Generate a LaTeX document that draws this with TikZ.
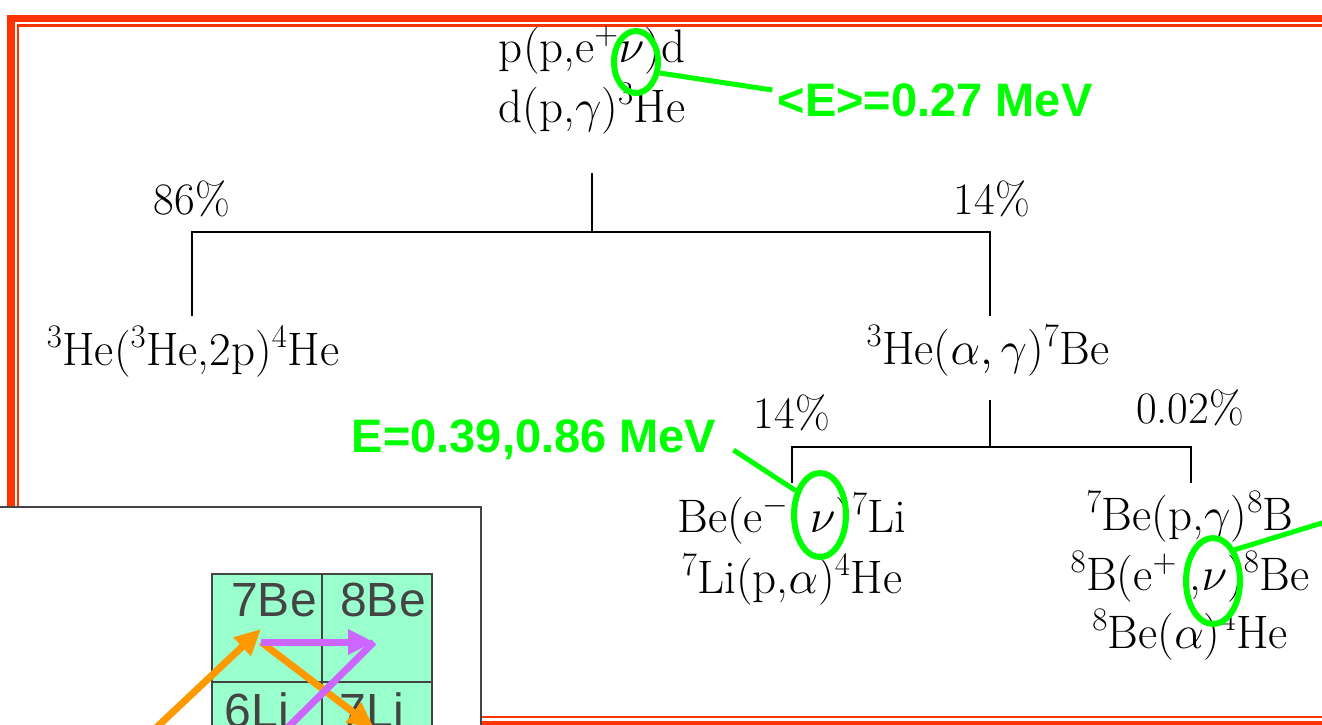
\RequirePackage{fix-cm}
\documentclass[tikz,border=0pt]{standalone}
\usepackage{fontspec}
\newfontfamily\arialfont{Liberation Sans}
\usetikzlibrary{arrows.meta,positioning,calc,shapes.geometric}
\definecolor{framered}{HTML}{FF3300}
\definecolor{nugreen}{HTML}{00FF00}
\definecolor{cellmint}{HTML}{99FFCC}
\definecolor{cellgray}{HTML}{444444}
\definecolor{arrorange}{HTML}{FF9900}
\definecolor{arrpurple}{HTML}{CC66FF}

\begin{document}
\begin{tikzpicture}[
    x=1pt, y=-1pt,
    rx/.style={font=\fontsize{47}{60}\selectfont, inner sep=0pt, anchor=base},
    pct/.style={font=\fontsize{45}{52}\selectfont, inner sep=0pt},
    branch/.style={line width=1.3pt},
    nuring/.style={ellipse, draw=nugreen, line width=6pt, inner sep=0pt},
    nulabel/.style={text=nugreen, font=\arialfont\bfseries\fontsize{47}{56}\selectfont, inner sep=0pt},
    nulink/.style={draw=nugreen, line width=5pt},
    cell/.style={rectangle, draw=cellgray, line width=2pt, fill=cellmint, minimum width=110pt, minimum height=108pt, inner sep=0pt},
    celltxt/.style={text=cellgray, font=\arialfont\fontsize{48}{54}\selectfont, inner sep=0pt, anchor=base},
    flow/.style={line width=7pt, -{Triangle[length=26pt,width=24pt]}}
]
\useasboundingbox (0,0) rectangle (1322,724);
\clip (0,0) rectangle (1322,724);

% slide frame
\draw[framered, line width=7.5pt] (11.2,18.7) rectangle (1345,724.5);
\draw[framered, line width=2.5pt] (18,25.3) rectangle (1340,717);

% pp chain
\node[rx] (pp1) at (592,62) {p(p,e$^+$$\nu$)d};
\node[rx] (pp2) at (592,122) {d(p,$\gamma$)$^3$He};

\coordinate (pp-stem) at (592,173);
\coordinate (j0) at (592,232);
\coordinate (hh-top) at (192,316);
\coordinate (be-top) at (990,316);
\draw[branch] (pp-stem) -- (j0);
\draw[branch] (hh-top) |- (j0) -| (be-top);

\node[pct] (p86) at (192,199) {86\%};
\node[pct] (p14a) at (992,199) {14\%};

\node[rx] (hh) at (193,365) {$^3$He($^3$He,2p)$^4$He};
\node[rx] (be7) at (988,364) {$^3$He($\alpha,\gamma$)$^7$Be};

% 7Be branches
\coordinate (be-stem) at (990,400);
\coordinate (j1) at (990,447);
\coordinate (li-top) at (792,483);
\coordinate (b8-top) at (1191,483);
\draw[branch] (be-stem) -- (j1);
\draw[branch] (li-top) |- (j1) -| (b8-top);

\node[pct] (p14b) at (792,413) {14\%};
\node[pct] (p002) at (1190,408) {0.02\%};

\node[rx] (li1) at (792,532) {Be(e$^-$\hspace{0.445em}$\nu$)$^7$Li};
\node[rx] (li2) at (792,593) {$^7$Li(p,$\alpha$)$^4$He};

\node[rx] (b1) at (1190,530) {$^7$Be(p,$\gamma$)$^8$B};
\node[rx] (b2) at (1190,590) {$^8$B(e$^+$\;,$\nu$)$^8$Be};
\node[rx] (b3) at (1190,648) {$^8$Be($\alpha$)$^4$He};

% neutrino marks
\node[nuring, minimum width=44pt, minimum height=62pt] (nu1) at (636,62) {};
\node[nuring, minimum width=52pt, minimum height=84pt] (nu2) at (820,515) {};
\node[nuring, minimum width=54pt, minimum height=86pt] (nu3) at (1213,581) {};

\node[nulabel] (e27) at (935,100) {<E>=0.27 MeV};
\node[nulabel] (e39) at (534,440) {E=0.39,0.86 MeV};
\coordinate (nu3-far) at (1420,493);

\draw[nulink] (nu1.-25) -- ([yshift=10pt,xshift=-5pt]e27.west);
\draw[nulink] ([xshift=17pt,yshift=-10pt]e39.east) -- (nu2.135);
\draw[nulink] (nu3.55) -- (nu3-far);

% inset: chart of nuclides
\draw[cellgray, line width=2pt, fill=white] (-10,507) rectangle (481,760);
\node[cell] (c7Be) at (267,628) {};
\node[cell] (c8Be) at (377,628) {};
\node[cell] (c6Li) at (267,736) {};
\node[cell] (c7Li) at (377,736) {};
\node[celltxt] (t7Be) at (274,616) {7Be};
\node[celltxt] (t8Be) at (383,616) {8Be};
\node[celltxt] (t6Li) at (257,727) {6Li};
\node[celltxt] (t7Li) at (372,727) {7Li};

\coordinate (in7Be) at (261,629);
\coordinate (out7Be) at (261,642);
\coordinate (in8Be) at (374,642);
\coordinate (in7Li) at (374,728);
\coordinate (src) at (140,743);
\coordinate (sink) at (250,765);

\draw[flow, arrorange] (src) -- (in7Be);
\draw[flow, arrorange] (out7Be) -- (in7Li);
\draw[flow, arrpurple] (out7Be) -- (in8Be);
\draw[flow, arrpurple] (in8Be) -- (sink);

\end{tikzpicture}
\end{document}
